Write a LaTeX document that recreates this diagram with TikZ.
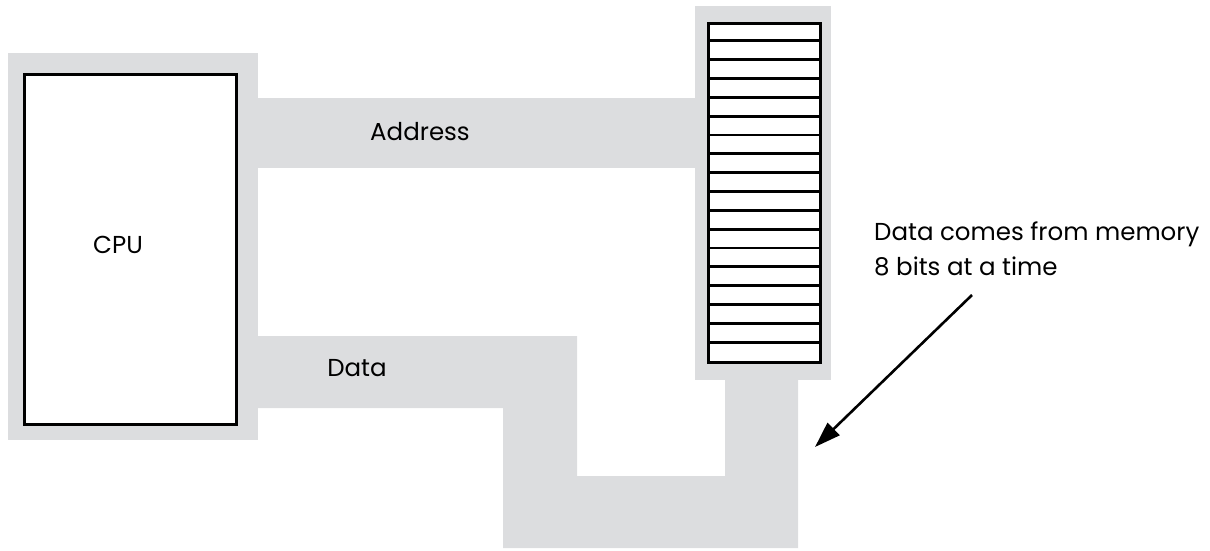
\documentclass[tikz,border=0pt]{standalone}
\usepackage{fontspec}
\setmainfont{Poppins}
\usetikzlibrary{arrows.meta}
\definecolor{busgray}{RGB}{220,221,223}
\tikzset{
  bus/.style={fill=busgray, draw=none},
  box/.style={draw=black, line width=3pt, fill=white, inner sep=0pt},
  lbl/.style={font=\fontsize{24.5}{35}\selectfont, inner sep=0pt},
  pointer/.style={line width=2.6pt, -{Triangle[length=26pt,width=17pt]}}
}
\begin{document}
\begin{tikzpicture}[x=1pt,y=-1pt]
\useasboundingbox (0,0) rectangle (1210,550);
% gray backgrounds
\fill[bus] (8,53) rectangle (258,440);
\fill[bus] (258,98) rectangle (695,168);
\fill[bus] (258,336) -- (577,336) -- (577,476) -- (725,476) -- (725,380) -- (798,380)
  -- (798,548) -- (503,548) -- (503,408) -- (258,408) -- cycle;
\fill[bus] (695,6) rectangle (831,380);
% CPU
\node[box, minimum width=212pt, minimum height=350pt, anchor=north west] (cpu) at (23,73) {};
\node[lbl] (cputext) at (118,245) {CPU};
% memory
\node[box, minimum width=112pt, minimum height=339pt, anchor=north west] (mem) at (707,22) {};
\foreach \i in {1,...,17} {
  \draw[line width=2.8pt] ([yshift=-\i*18.83pt]mem.north west) -- ([yshift=-\i*18.83pt]mem.north east);
}
% labels
\node[lbl] (addr) at (420,132) {Address};
\node[lbl] (data) at (357,368) {Data};
\node[lbl, align=left, anchor=base west] (note) at (874,275) {Data comes from memory\\8 bits at a time};
\coordinate (tip) at (815,447);
\coordinate (tail) at (972,295);
\draw[pointer] (tail) -- (tip);
\end{tikzpicture}
\end{document}
